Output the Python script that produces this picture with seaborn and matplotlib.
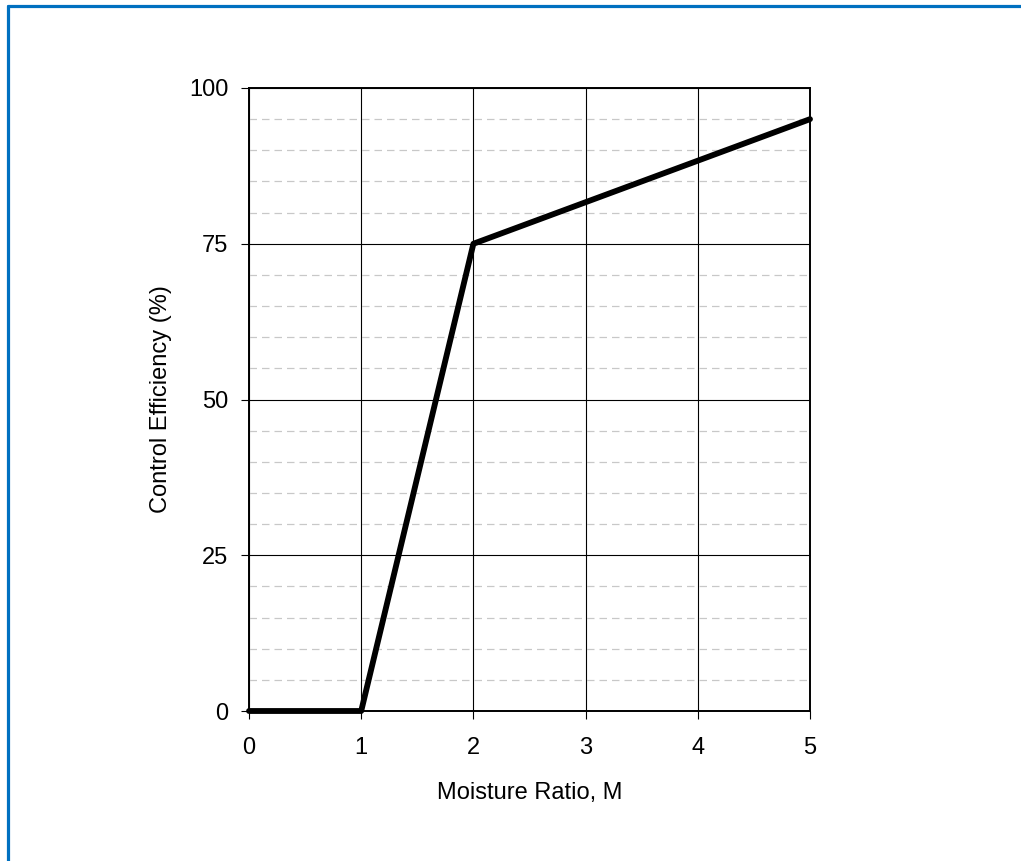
import matplotlib
matplotlib.use("Agg")
import matplotlib.pyplot as plt
from matplotlib.lines import Line2D
from matplotlib.ticker import MultipleLocator
import seaborn as sns
import pandas as pd

# Control efficiency as a function of moisture ratio
moisture_ratio = [0, 1, 2, 5]
control_efficiency = [0, 0, 75, 95]

x_ticks = [0, 1, 2, 3, 4, 5]
y_ticks = [0, 25, 50, 75, 100]

df = pd.DataFrame({"M": moisture_ratio, "CE": control_efficiency})

sns.set_theme(style="white")
plt.rcParams["font.family"] = ["Liberation Sans", "DejaVu Sans"]

fig = plt.figure(figsize=(10.21, 8.61), dpi=100)
ax = fig.add_axes([249 / 1021, 150 / 861, 561 / 1021, 623 / 861])

# minor dashed grid every 5 %
ax.yaxis.set_minor_locator(MultipleLocator(5))
ax.grid(which="minor", axis="y", color="#c8c8c8", linestyle=(0, (6, 4)), linewidth=0.9)
ax.grid(which="major", axis="both", color="black", linewidth=0.8)
ax.set_axisbelow(True)

sns.lineplot(data=df, x="M", y="CE", ax=ax, color="black", linewidth=4.2,
             solid_capstyle="round", solid_joinstyle="round", clip_on=False)

ax.set_xlim(0, 5)
ax.set_ylim(0, 100)
ax.set_xticks(x_ticks)
ax.set_yticks(y_ticks)

for s in ax.spines.values():
    s.set_color("black")
    s.set_linewidth(1.4)

fs = 17
ax.tick_params(axis="both", which="major", direction="out", length=6, width=0.8,
               color="black", labelsize=fs, labelcolor="black",
               bottom=True, left=True)
ax.tick_params(axis="x", pad=13)
ax.tick_params(axis="y", pad=9)
ax.tick_params(which="minor", length=0)

ax.set_xlabel("Moisture Ratio, M", fontsize=fs, color="black", labelpad=16)
ax.set_ylabel("Control Efficiency (%)", fontsize=fs, color="black", labelpad=12)

# blue frame along the top and left edges
fig.add_artist(Line2D([8 / 1021, 1], [1 - 6 / 861, 1 - 6 / 861],
                      transform=fig.transFigure, color="#0070C0", linewidth=2.3))
fig.add_artist(Line2D([8 / 1021, 8 / 1021], [0, 1 - 6 / 861],
                      transform=fig.transFigure, color="#0070C0", linewidth=2.3))

fig.savefig("out.png", dpi=100, facecolor="white")
